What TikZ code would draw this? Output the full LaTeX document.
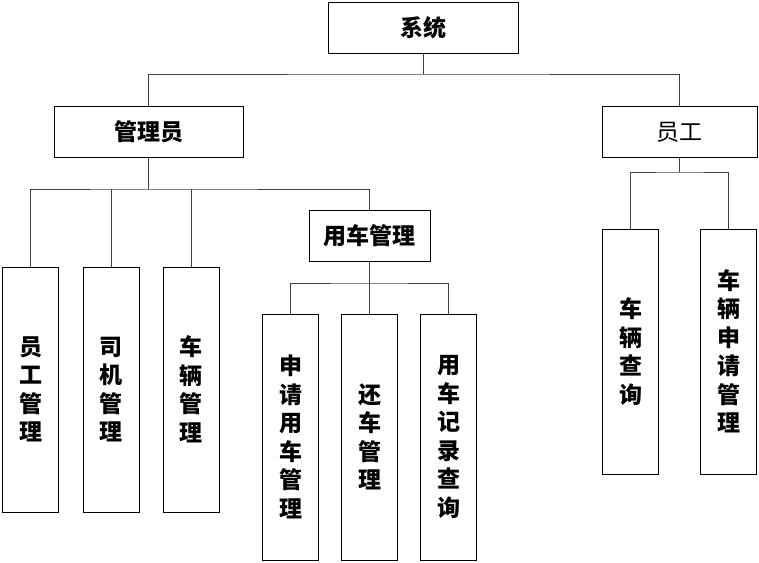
\documentclass[tikz,border=0pt]{standalone}
\usepackage{fontspec}
\newfontfamily\cjk{Noto Sans CJK SC}
\begin{document}
\begin{tikzpicture}[x=1pt,y=-1pt,
  box/.style={draw=black,line width=1pt,inner sep=0pt,font=\cjk\bfseries\fontsize{23}{28.5}\selectfont,align=center},
  hbox/.style={box,minimum height=51pt},
  vbox/.style={box,minimum width=56pt},
  conn/.style={draw=black!75,line width=1pt}]
\useasboundingbox (0,0) rectangle (759,562);
\node[hbox,minimum width=190pt] (sys) at (423,28) {系统};
\node[hbox,minimum width=189pt] (admin) at (148.5,132) {管理员};
\node[hbox,minimum width=155pt,font=\cjk\fontsize{23}{28.5}\selectfont] (emp) at (679.5,132) {员工};
\node[vbox,minimum height=245pt] (a1) at (30.5,389.5) {员\\工\\管\\理};
\node[vbox,minimum height=245pt] (a2) at (111,389.5) {司\\机\\管\\理};
\node[vbox,minimum height=245pt] (a3) at (191,389.5) {车\\辆\\管\\理};
\node[hbox,minimum width=121pt] (use) at (369.5,236) {用车管理};
\node[vbox,minimum height=246pt] (u1) at (290.5,437) {申\\请\\用\\车\\管\\理};
\node[vbox,minimum height=246pt] (u2) at (369.5,437) {还\\车\\管\\理};
\node[vbox,minimum height=246pt] (u3) at (448.5,437) {用\\车\\记\\录\\查\\询};
\node[vbox,minimum height=245pt] (e1) at (630.5,351.5) {车\\辆\\查\\询};
\node[vbox,minimum height=245pt] (e2) at (728.5,351.5) {车\\辆\\申\\请\\管\\理};
% system level
\coordinate (b0) at (423,74);
\draw[conn] (sys.south) -- (b0);
\draw[conn] (admin.north) |- (b0) -| (emp.north);
% admin level
\coordinate (b1) at (148.5,189);
\draw[conn] (admin.south) -- (b1);
\draw[conn] (a1.north) |- (b1) -| (use.north);
\draw[conn] (a2.north) -- (a2.north |- b1);
\draw[conn] (a3.north) -- (a3.north |- b1);
% use level
\coordinate (b2) at (369.5,283);
\draw[conn] (use.south) -- (u2.north);
\draw[conn] (u1.north) |- (b2) -| (u3.north);
% employee level
\coordinate (b3) at (679.5,172);
\draw[conn] (emp.south) -- (b3);
\draw[conn] (e1.north) |- (b3) -| (e2.north);
\end{tikzpicture}
\end{document}
